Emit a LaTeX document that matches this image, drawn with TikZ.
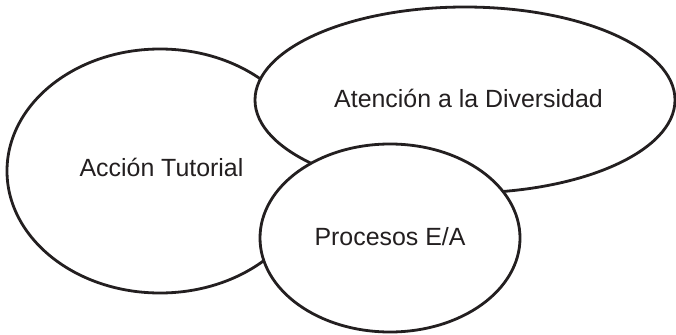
\documentclass[tikz,border=0pt]{standalone}
\usepackage{fontspec}
\setmainfont{Liberation Sans}
\usetikzlibrary{shapes.geometric}
\definecolor{ink}{RGB}{35,31,32}
\begin{document}
\begin{tikzpicture}[x=1pt,y=-1pt,
  blob/.style={ellipse, draw=ink, fill=white, line width=2.8pt, inner sep=0pt, outer sep=0pt},
  lbl/.style={text=ink, inner sep=0pt, anchor=base, font=\fontsize{24.9}{30}\selectfont}]
\useasboundingbox (0,0) rectangle (676,334);
\node[blob, minimum width=306pt, minimum height=244pt] (tut) at (160,171) {};
\node[blob, minimum width=420pt, minimum height=186pt] (div) at (465,100) {};
\node[blob, minimum width=260pt, minimum height=188pt] (pro) at (390,238) {};
\node[lbl] (tutl) at (161.5,176.7) {Acción Tutorial};
\node[lbl] (divl) at (468.5,107.3) {Atención a la Diversidad};
\node[lbl] (prol) at (390,245.3) {Procesos E/A};
\end{tikzpicture}
\end{document}
